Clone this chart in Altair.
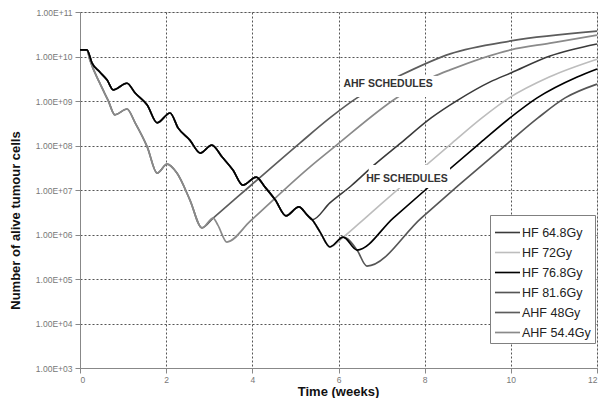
import altair as alt
import pandas as pd

# ---- series / legend ----
series = ["HF 64.8Gy", "HF 72Gy", "HF 76.8Gy", "HF 81.6Gy", "AHF 48Gy", "AHF 54.4Gy"]
colors = ["#3a3a3a", "#bdbdbd", "#000000", "#555555", "#5c5c5c", "#8a8a8a"]
widths = [1.6, 1.7, 2.3, 0.9, 1.2, 1.9]
draw_order = ["AHF 48Gy", "AHF 54.4Gy", "HF 81.6Gy", "HF 72Gy", "HF 64.8Gy", "HF 76.8Gy"]

# ---- HF common treatment phase (weeks, log10 cells) ----
hf_weeks = [0, 0.16, 0.28, 0.46, 0.63, 0.77, 1.09, 1.28, 1.56, 1.79, 2.09, 2.28, 2.55,
            2.79, 3.06, 3.30, 3.55, 3.78, 4.09, 4.29, 4.53, 4.78, 5.08, 5.27, 5.39,
            5.57, 5.80, 6.11, 6.43, 6.66]
hf_log = [10.15, 10.15, 9.85, 9.65, 9.47, 9.25, 9.40, 9.18, 8.91, 8.51, 8.73, 8.39, 8.12,
          7.83, 8.01, 7.74, 7.45, 7.11, 7.29, 7.07, 6.78, 6.42, 6.62, 6.44, 6.33,
          6.06, 5.72, 5.94, 5.65, 5.29]
# index (inclusive) in the HF common phase where each schedule stops
hf_stop = {"HF 64.8Gy": 24, "HF 72Gy": 27, "HF 76.8Gy": 28, "HF 81.6Gy": 29}

# regrowth after treatment
hf648_w = [5.80, 6.29, 6.85, 7.45, 8.15, 8.77, 9.52, 10.0, 10.91, 12.0]
hf648_l = [6.71, 7.09, 7.58, 8.06, 8.62, 9.02, 9.43, 9.63, 10.01, 10.28]
hf72_w = [6.62, 7.47, 8.64, 9.33, 9.96, 10.89, 12.0]
hf72_l = [6.37, 7.09, 8.06, 8.62, 9.07, 9.54, 9.94]
hf768_w = [7.27, 8.12, 9.29, 9.98, 10.61, 11.54, 12.0]
hf768_l = [6.37, 7.09, 8.06, 8.62, 9.07, 9.54, 9.72]
hf816_w = [7.92, 8.77, 9.94, 10.63, 11.26, 12.0]
hf816_l = [6.37, 7.09, 8.06, 8.62, 9.07, 9.38]

# ---- AHF common treatment phase ----
ahf_weeks = [0, 0.16, 0.23, 0.46, 0.65, 0.81, 1.09, 1.28, 1.56, 1.79, 2.02, 2.25, 2.55,
             2.83, 3.09]
ahf_log = [10.15, 10.15, 9.92, 9.40, 9.02, 8.69, 8.82, 8.51, 7.97, 7.38, 7.58, 7.38, 6.78,
           6.15, 6.37]
ahf544_extra_w = [3.20, 3.41]
ahf544_extra_l = [6.21, 5.83]

ahf48_w = [3.95, 5.11, 5.80, 6.43, 7.36, 8.59, 10.0, 12.0]
ahf48_l = [7.09, 8.06, 8.62, 9.07, 9.54, 10.06, 10.35, 10.57]
ahf544_w = [3.95, 5.34, 5.87, 7.38, 8.19, 8.59, 10.0, 10.91, 12.0]
ahf544_l = [6.30, 7.52, 7.94, 9.09, 9.54, 9.70, 10.15, 10.30, 10.48]

# ---- annotations ----
ann_text = ["AHF SCHEDULES", "HF SCHEDULES"]
ann_week = [7.15, 7.59]
ann_cells = [2.41e9, 1.77e7]
box_w1 = [6.04, 6.70]
box_w2 = [8.29, 8.59]
box_c1 = [1.23e9, 1.11e7]
box_c2 = [3.65e9, 3.65e7]

x_ticks = [0, 2, 4, 6, 8, 10, 12]
y_ticks = [1e3, 1e4, 1e5, 1e6, 1e7, 1e8, 1e9, 1e10, 1e11]

rows = []
def add(name, ws, ls):
    for i, (w, l) in enumerate(zip(ws, ls)):
        rows.append({"series": name, "week": w, "cells": 10 ** l, "idx": i})

add("HF 64.8Gy", hf_weeks[:hf_stop["HF 64.8Gy"] + 1] + hf648_w, hf_log[:hf_stop["HF 64.8Gy"] + 1] + hf648_l)
add("HF 72Gy", hf_weeks[:hf_stop["HF 72Gy"] + 1] + hf72_w, hf_log[:hf_stop["HF 72Gy"] + 1] + hf72_l)
add("HF 76.8Gy", hf_weeks[:hf_stop["HF 76.8Gy"] + 1] + hf768_w, hf_log[:hf_stop["HF 76.8Gy"] + 1] + hf768_l)
add("HF 81.6Gy", hf_weeks[:hf_stop["HF 81.6Gy"] + 1] + hf816_w, hf_log[:hf_stop["HF 81.6Gy"] + 1] + hf816_l)
add("AHF 48Gy", ahf_weeks + ahf48_w, ahf_log + ahf48_l)
add("AHF 54.4Gy", ahf_weeks + ahf544_extra_w + ahf544_w, ahf_log + ahf544_extra_l + ahf544_l)
df = pd.DataFrame(rows)

ann_df = pd.DataFrame({"text": ann_text, "week": ann_week, "cells": ann_cells})
box_df = pd.DataFrame({"w1": box_w1, "w2": box_w2, "c1": box_c1, "c2": box_c2})

FONT = "Liberation Sans"
xscale = alt.Scale(domain=[0, 12], nice=False, zero=False)
yscale = alt.Scale(type="log", domain=[1e3, 1e11], nice=False)

label_expr = ("'1.00E+' + (round(log(datum.value)/LN10) < 10 ? '0' : '') + "
              "round(log(datum.value)/LN10)")

GRID = dict(grid=True, gridColor="#555555", gridDash=[2, 2], gridWidth=1, gridOpacity=1)

x_axis = alt.Axis(values=x_ticks, title="Time (weeks)", titleFont=FONT, titleFontSize=13,
                  titleFontWeight="bold", titleColor="#111", titleX=258, titleY=23,
                  titleBaseline="middle", titleAlign="center", labelFont=FONT,
                  labelFontSize=8.5, labelColor="#777", labelPadding=2, tickSize=5, **GRID)
y_axis = alt.Axis(values=y_ticks, labelExpr=label_expr, title="Number of alive tumour cells",
                  titleFont=FONT, titleFontSize=13, titleFontWeight="bold", titleColor="#111",
                  titleX=-65, titleY=208, titleBaseline="middle", titleAlign="center",
                  titleAngle=270, labelFont=FONT, labelFontSize=8.5, labelColor="#777",
                  labelPadding=3, tickSize=5, **GRID)

legend = alt.Legend(title=None, orient="none", legendX=410, legendY=203,
                    symbolType="M-1,0H1", symbolSize=625, labelFont=FONT,
                    labelFontSize=12.5, labelColor="#222", strokeColor="#808080",
                    fillColor="white", padding=4, rowPadding=-3, symbolOffset=0,
                    labelOffset=1)

layers = []
for name in draw_order:
    layers.append(
        alt.Chart(df).transform_filter(alt.datum.series == name).mark_line(
            strokeJoin="round", interpolate="monotone").encode(
            x=alt.X("week:Q", scale=xscale, axis=x_axis),
            y=alt.Y("cells:Q", scale=yscale, axis=y_axis),
            color=alt.Color("series:N", scale=alt.Scale(domain=series, range=colors),
                            legend=legend),
            strokeWidth=alt.StrokeWidth("series:N",
                                        scale=alt.Scale(domain=series, range=widths),
                                        legend=legend),
            order="idx:Q",
        )
    )

boxes = alt.Chart(box_df).mark_rect(color="white").encode(
    x=alt.X("w1:Q", scale=xscale, axis=x_axis), x2="w2:Q",
    y=alt.Y("c1:Q", scale=yscale, axis=y_axis), y2="c2:Q")
labels = alt.Chart(ann_df).mark_text(font=FONT, fontSize=10.5, fontWeight="bold",
                                     color="#333").encode(
    x=alt.X("week:Q", scale=xscale, axis=x_axis),
    y=alt.Y("cells:Q", scale=yscale, axis=y_axis), text="text:N")

chart = alt.layer(*layers, boxes, labels).properties(
    width=517, height=356,
    autosize=alt.AutoSizeParams(type="none"),
    padding={"left": 72, "top": 4, "right": 2, "bottom": 30},
).configure_view(stroke="#b8b8b8", strokeWidth=1).configure_axis(
    domainColor="#8c8c8c", domainWidth=1.5, tickColor="#8c8c8c",
).configure(background="white")

chart.save("out.html", embed_options={"renderer": "svg", "actions": False})
